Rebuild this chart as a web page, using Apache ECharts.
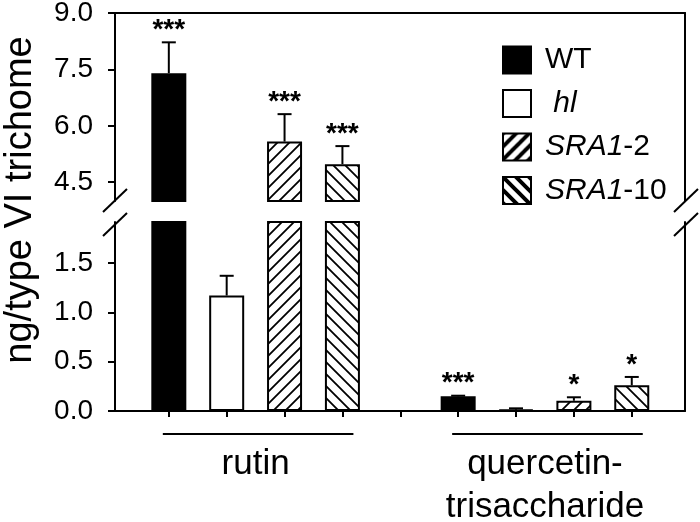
<!DOCTYPE html>
<html><head><meta charset="utf-8">
<script src="https://cdn.jsdelivr.net/npm/echarts@6/dist/echarts.min.js"></script>
<style>html,body{margin:0;padding:0;background:#fff}#c{width:700px;height:522px}</style>
</head><body><div id="c"></div>
<script>
// ---- data ----
const groups = ['rutin', 'quercetin-\ntrisaccharide'];
const lineNames = ['WT', 'hl', 'SRA1-2', 'SRA1-10'];
const slotsWT = [1, 6], slotsHL = [2, 7], slotsSRA2 = [3, 8], slotsSRA10 = [4, 9];
const meanWT = [7.40, 0.149];
const meanHL = [1.17, 0.013];
const meanSRA2 = [5.58, 0.104];
const meanSRA10 = [4.98, 0.26];
const errWT = [0.82, 0.006];
const errHL = [0.20, 0.014];
const errSRA2 = [0.73, 0.035];
const errSRA10 = [0.48, 0.085];
const sigWT = ['***', '***'];
const sigHL = ['', ''];
const sigSRA2 = ['***', '*'];
const sigSRA10 = ['***', '*'];
const upperTicks = [4.5, 6.0, 7.5, 9.0];
const lowerTicks = [0.0, 0.5, 1.0, 1.5];
const xTicks = [1, 2, 3, 4, 5, 6, 7, 8, 9];
const groupCenters = [2.5, 7.5];
const upperRange = [4, 9];
const lowerRange = [0, 1.915];
const xRange = [0.07, 9.92];

const F = '"Liberation Sans", Arial, Helvetica, sans-serif';

function hatch(s, lw, dir) {
  const c = document.createElement('canvas'); c.width = c.height = s;
  const g = c.getContext('2d');
  g.fillStyle = '#fff'; g.fillRect(0, 0, s, s);
  g.strokeStyle = '#000'; g.lineWidth = lw;
  g.beginPath();
  if (dir === '/') {
    g.moveTo(-s/2, s*1.5); g.lineTo(s*1.5, -s/2);
    g.moveTo(-s/2, s/2); g.lineTo(s/2, -s/2);
    g.moveTo(s/2, s*1.5); g.lineTo(s*1.5, s/2);
  } else {
    g.moveTo(-s/2, -s/2); g.lineTo(s*1.5, s*1.5);
    g.moveTo(s/2, -s/2); g.lineTo(s*1.5, s/2);
    g.moveTo(-s/2, s/2); g.lineTo(s/2, s*1.5);
  }
  g.stroke();
  return c;
}
const patFwd = { image: hatch(12, 1.8, '/'), repeat: 'repeat' };
const patBack = { image: hatch(12, 1.8, '\\'), repeat: 'repeat' };
const legFwd = { image: hatch(13, 4, '/'), repeat: 'repeat' };
const legBack = { image: hatch(13, 4, '\\'), repeat: 'repeat' };

const seriesDefs = [
  { name: 'WT', slots: slotsWT, mean: meanWT, err: errWT, sig: sigWT, fill: '#000', leg: '#000' },
  { name: 'hl', slots: slotsHL, mean: meanHL, err: errHL, sig: sigHL, fill: '#fff', leg: '#fff' },
  { name: 'SRA1-2', slots: slotsSRA2, mean: meanSRA2, err: errSRA2, sig: sigSRA2, fill: patFwd, leg: legFwd },
  { name: 'SRA1-10', slots: slotsSRA10, mean: meanSRA10, err: errSRA10, sig: sigSRA10, fill: patBack, leg: legBack }
];

const errData = [], sigData = [];
seriesDefs.forEach(d => d.slots.forEach((x, i) => {
  errData.push([x, d.mean[i], d.err[i]]);
  if (d.sig[i]) sigData.push([x, d.mean[i] + d.err[i], d.sig[i]]);
}));

const axisLineStyle = { color: '#000', width: 2 };
const series = [];
[[0, 0], [1, 2]].forEach(([xi, yi]) => {
  seriesDefs.forEach(d => {
    series.push({
      type: 'bar', name: d.name, xAxisIndex: xi, yAxisIndex: yi,
      barWidth: 35, barGap: '-100%', clip: true,
      itemStyle: { color: d.fill, borderColor: '#000', borderWidth: 2 },
      emphasis: { disabled: true },
      data: d.slots.map((x, i) => [x, d.mean[i]])
    });
  });
  series.push({
    type: 'custom', xAxisIndex: xi, yAxisIndex: yi, clip: true, silent: true,
    encode: { x: 0, y: 1 },
    data: errData,
    renderItem(params, api) {
      const x = api.value(0), m = api.value(1), e = api.value(2);
      const p0 = api.coord([x, m]), p1 = api.coord([x, m + e]);
      const st = { stroke: '#000', lineWidth: 2 };
      return { type: 'group', children: [
        { type: 'line', shape: { x1: p0[0], y1: p0[1], x2: p1[0], y2: p1[1] }, style: st },
        { type: 'line', shape: { x1: p1[0] - 7, y1: p1[1], x2: p1[0] + 7, y2: p1[1] }, style: st }
      ]};
    }
  });
  series.push({
    type: 'custom', xAxisIndex: xi, yAxisIndex: yi, clip: true, silent: true,
    encode: { x: 0, y: 1 },
    data: sigData,
    renderItem(params, api) {
      const p = api.coord([api.value(0), api.value(1)]);
      return { type: 'text', x: p[0], y: p[1] - 12,
        style: { text: sigData[params.dataIndex][2], font: 'bold 28px ' + F, fill: '#000', align: 'center', verticalAlign: 'middle' } };
    }
  });
});
// group underlines
series.push({
  type: 'custom', xAxisIndex: 1, yAxisIndex: 2, clip: false, silent: true,
  encode: { x: [0, 1], y: 2 },
  data: [[slotsWT[0], slotsSRA10[0], 0], [slotsWT[1], slotsSRA10[1], 0]],
  renderItem(params, api) {
    const a = api.coord([api.value(0), 0]), b = api.coord([api.value(1), 0]);
    return { type: 'line', shape: { x1: a[0] - 6, y1: a[1] + 23, x2: b[0] + 11, y2: b[1] + 23 },
      style: { stroke: '#000', lineWidth: 2 } };
  }
});

const yLeft = (gi, range, ticks) => ({
  type: 'value', gridIndex: gi, position: 'left', min: range[0], max: range[1],
  axisLine: { show: true, onZero: false, lineStyle: axisLineStyle },
  axisTick: { show: true, length: 7, customValues: ticks, lineStyle: axisLineStyle },
  axisLabel: { customValues: ticks, formatter: v => v.toFixed(1), fontSize: 28, fontFamily: F, color: '#000', margin: 22 },
  splitLine: { show: false }
});
const yRight = (gi, range) => ({
  type: 'value', gridIndex: gi, position: 'right', min: range[0], max: range[1],
  axisLine: { show: true, onZero: false, lineStyle: axisLineStyle },
  axisTick: { show: false }, axisLabel: { show: false }, splitLine: { show: false }
});

const option = {
  animation: false,
  backgroundColor: '#fff',
  grid: [
    { left: 115, right: 15, top: 13, height: 188, outerBoundsMode: 'none', containLabel: false },
    { left: 115, right: 15, top: 222, bottom: 111, outerBoundsMode: 'none', containLabel: false }
  ],
  xAxis: [
    { type: 'value', gridIndex: 0, position: 'top', min: xRange[0], max: xRange[1],
      axisLine: { show: true, onZero: false, lineStyle: axisLineStyle },
      axisTick: { show: false }, axisLabel: { show: false }, splitLine: { show: false } },
    { type: 'value', gridIndex: 1, position: 'bottom', min: xRange[0], max: xRange[1],
      axisLine: { show: true, onZero: false, lineStyle: axisLineStyle },
      axisTick: { show: true, length: 6, customValues: xTicks, lineStyle: axisLineStyle },
      axisLabel: { customValues: groupCenters, formatter: v => groups[groupCenters.indexOf(v)],
        fontSize: 35, lineHeight: 43, fontFamily: F, color: '#000', margin: 32 },
      splitLine: { show: false } }
  ],
  yAxis: [
    yLeft(0, upperRange, upperTicks), yRight(0, upperRange),
    yLeft(1, lowerRange, lowerTicks), yRight(1, lowerRange)
  ],
  legend: {
    orient: 'vertical', left: 502, top: 45, padding: 0,
    itemWidth: 28, itemHeight: 27, itemGap: 13.5, selectedMode: false,
    data: seriesDefs.map(d => ({ name: d.name, icon: 'rect', itemStyle: { color: d.leg, borderColor: '#000', borderWidth: 2 } })),
    formatter: name => ({ 'WT': 'WT', 'hl': '{i| hl}', 'SRA1-2': '{i|SRA1}-2', 'SRA1-10': '{i|SRA1}-10' })[name],
    textStyle: { fontSize: 30, fontFamily: F, color: '#000', padding: [0, 0, 0, 9],
      rich: { i: { fontSize: 30, fontFamily: F, fontStyle: 'italic', color: '#000' } } }
  },
  graphic: [
    { type: 'text', x: 21, y: 200, rotation: Math.PI / 2,
      style: { text: 'ng/type VI trichome', font: '38px ' + F, fill: '#000', align: 'center', verticalAlign: 'middle' } },
    { type: 'line', shape: { x1: 103, y1: 212, x2: 127, y2: 189 }, style: { stroke: '#000', lineWidth: 2 } },
    { type: 'line', shape: { x1: 103, y1: 236, x2: 127, y2: 213 }, style: { stroke: '#000', lineWidth: 2 } },
    { type: 'line', shape: { x1: 674, y1: 212, x2: 698, y2: 189 }, style: { stroke: '#000', lineWidth: 2 } },
    { type: 'line', shape: { x1: 674, y1: 236, x2: 698, y2: 213 }, style: { stroke: '#000', lineWidth: 2 } }
  ],
  series
};
const chart = echarts.init(document.getElementById('c'), null, { renderer: 'canvas' });
chart.setOption(option);
</script></body></html>
